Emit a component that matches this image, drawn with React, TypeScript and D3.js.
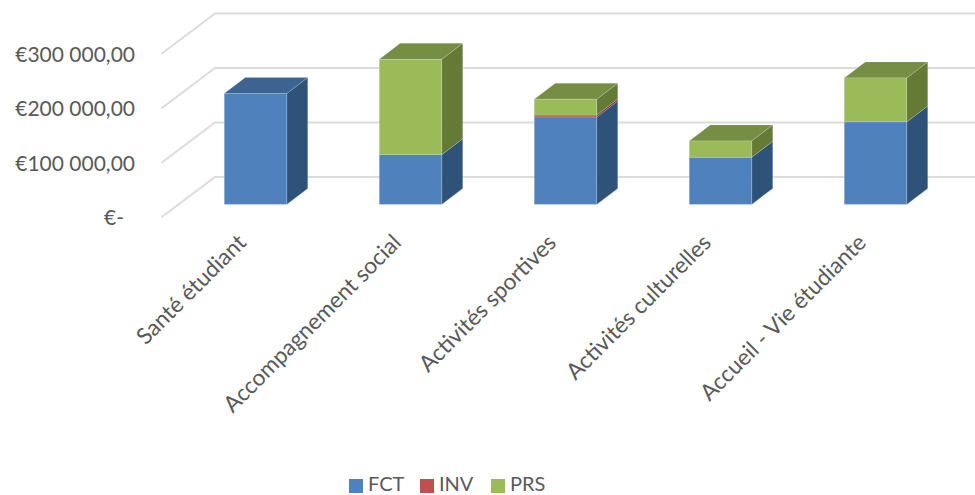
import React from "react";
import * as d3 from "d3";

const categories = ["Santé étudiant", "Accompagnement social", "Activités sportives", "Activités culturelles", "Accueil - Vie étudiante"];
const seriesNames = ["FCT", "INV", "PRS"];
const fct = [203700, 91200, 160500, 86500, 151400];
const inv = [0, 0, 3500, 0, 0];
const prs = [0, 175000, 29000, 30000, 80700];
const ticks = [0, 100000, 200000, 300000];
const tickLabels = ["€-", "€100 000,00", "€200 000,00", "€300 000,00"];
const frontColors = ["#4f81bd", "#c0504d", "#9bbb59"];
const sideColors = ["#2f5378", "#7c3230", "#657a35"];
const topColors = ["#3c6391", "#944a48", "#768d44"];

const W = 975, H = 495;
const font = "Lato, 'Open Sans', sans-serif";
const textColor = "#595959";

// plane geometry
const y = d3.scaleLinear().domain([0, 100000]).range([204.4, 149.9]);
const x = d3.scaleBand<number>().domain(d3.range(categories.length)).range([178, 953]).paddingInner(0).paddingOuter(0);
const barW = 62.5;
const barDx = 21, barDy = -16;
const wallDx = 53.5, wallDy = -40.2;
const floorDx = -16.5, floorDy = 12.8; // front wall edge relative to the bar plane

const rows = categories.map((_, i) => [fct[i], inv[i], prs[i]]);
const stacked = d3.stack<number[], number>().keys([0, 1, 2]).value((d, k) => d[k])(rows);

const pts = (a: number[][]) => a.map((p) => p.join(",")).join(" ");

export default function App() {
  return (
    <svg width={W} height={H} viewBox={`0 0 ${W} ${H}`} style={{ position: "absolute", left: 0, top: 0, background: "#fff" }}>
      <style>{`body{margin:0}`}</style>
      {ticks.map((t) => {
        const yf = y(t) + floorDy;
        const xf = 178 + floorDx;
        return (
          <polyline key={t} points={pts([[xf, yf], [xf + wallDx, yf + wallDy], [W, yf + wallDy]])} fill="none" stroke="#dcdcdc" strokeWidth={2} />
        );
      })}
      {ticks.map((t, i) => (
        <text key={t} x={i === 0 ? 124 : 135} y={y(t) + 15.5} textAnchor="end" dominantBaseline="middle" fontFamily={font} fontSize={21} fill={textColor}>
          {tickLabels[i]}
        </text>
      ))}
      {categories.map((c, i) => {
        const x0 = x(i)! + (x.bandwidth() - barW) / 2;
        const x1 = x0 + barW;
        return (
          <g key={c}>
            {stacked.map((s, k) => {
              const [a, b] = s[i];
              if (b <= a) return null;
              const yb = y(a), yt = y(b);
              const isTop = k === stacked.length - 1 || stacked.slice(k + 1).every((u) => u[i][1] <= u[i][0]);
              return (
                <g key={k} stroke="#dfe8f3" strokeOpacity={0.35} strokeWidth={0.6}>
                  <polygon points={pts([[x1, yb], [x1 + barDx, yb + barDy], [x1 + barDx, yt + barDy], [x1, yt]])} fill={sideColors[k]} />
                  {isTop && <polygon points={pts([[x0, yt], [x0 + barDx, yt + barDy], [x1 + barDx, yt + barDy], [x1, yt]])} fill={topColors[k]} />}
                  <rect x={x0} y={yt} width={barW} height={yb - yt} fill={frontColors[k]} />
                </g>
              );
            })}
            <text
              transform={`translate(${x0 + barW / 2 - 12},${240}) rotate(-45)`}
              textAnchor="end"
              dominantBaseline="middle"
              fontFamily={font}
              fontSize={22.6}
              fill={textColor}
            >
              {c}
            </text>
          </g>
        );
      })}
      {seriesNames.map((n, i) => {
        const lx = [349, 420, 491][i];
        return (
          <g key={n}>
            <rect x={lx} y={479} width={14} height={14} fill={frontColors[i]} />
            <text x={lx + 19} y={486} dominantBaseline="middle" fontFamily={font} fontSize={20} fill={textColor}>{n}</text>
          </g>
        );
      })}
    </svg>
  );
}
